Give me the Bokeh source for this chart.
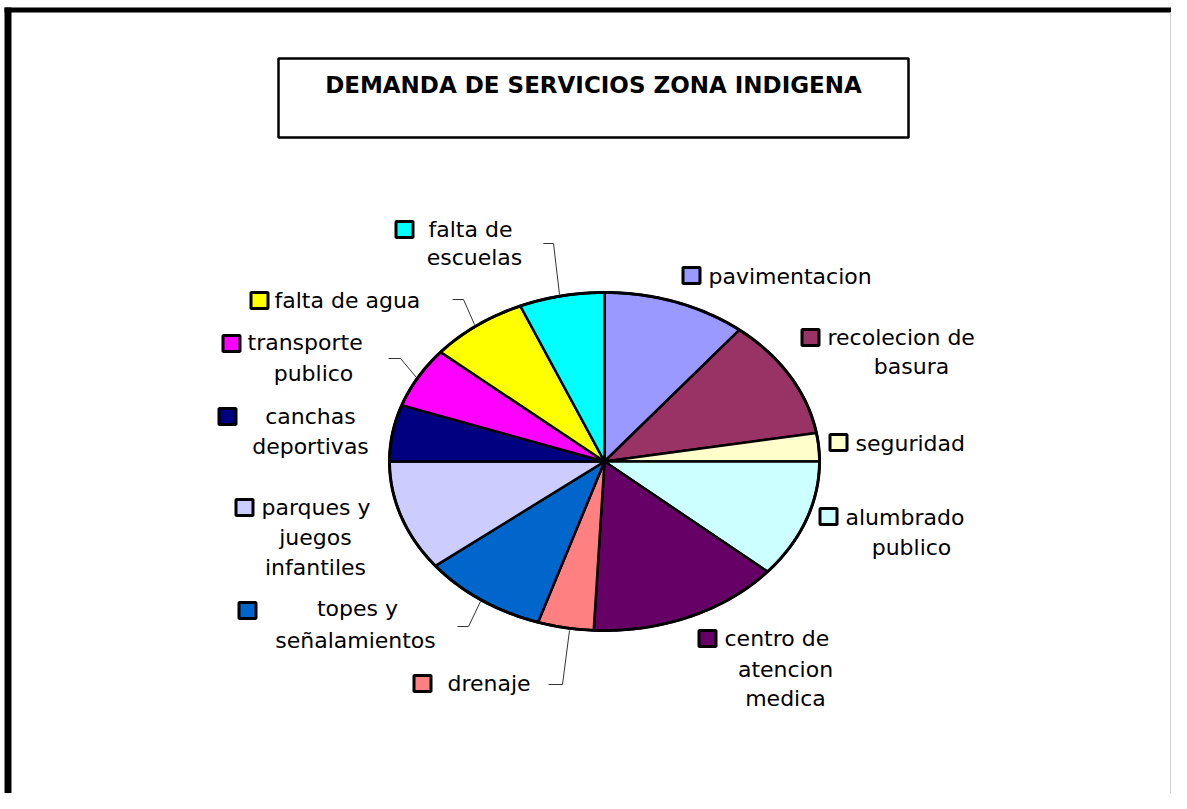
import numpy as np
from bokeh.plotting import figure
from bokeh.models import Range1d, ColumnDataSource
from bokeh.core.properties import value
from bokeh.embed import file_html
from bokeh.resources import INLINE

# ---------------- data ----------------
title = "DEMANDA DE SERVICIOS ZONA INDIGENA"
categories = ["pavimentacion", "recolecion de basura", "seguridad", "alumbrado publico",
              "centro de atencion medica", "drenaje", "topes y señalamientos",
              "parques y juegos infantiles", "canchas deportivas", "transporte publico",
              "falta de agua", "falta de escuelas"]
values = [10.8, 11.5, 2.7, 11.3, 14.5, 4.2, 9.4, 10.6, 5.4, 5.8, 7.4, 6.4]
colors = ["#9999FF", "#993366", "#FFFFCC", "#CCFFFF", "#660066", "#FF8080",
          "#0066CC", "#CCCCFF", "#000080", "#FF00FF", "#FFFF00", "#00FFFF"]

# ---------------- layout (screen pixel coordinates) ----------------
W, H = 1171, 793
CX, CY, RX, RY = 604, 461, 215, 169
FONT = "DejaVu Sans"

p = figure(width=W, height=H, output_backend="svg", toolbar_location=None,
           x_range=Range1d(0, W), y_range=Range1d(H, 0),
           min_border=0, outline_line_color=None)
p.axis.visible = False
p.grid.visible = False
p.background_fill_color = "white"
p.border_fill_color = "white"

# outer frame (thick black on left/top, thin grey on right)
p.line(x=[7.5, 7.5], y=[7, H], line_color="black", line_width=7)
p.line(x=[4, W], y=[9.5, 9.5], line_color="black", line_width=5)
p.line(x=[W - 1, W - 1], y=[12, H], line_color="#cccccc", line_width=1)

# title box
p.quad(left=[278], right=[908], top=[58], bottom=[137], fill_color="white",
       line_color="black", line_width=2.5)
p.text(x=[593], y=[84], text=[title], text_align="center", text_baseline="middle",
       text_font=value(FONT), text_font_style="bold", text_font_size="23px",
       text_color="black")

# pie slices (clockwise from 12 o'clock) as elliptical wedges
total = float(sum(values))
cum = np.concatenate([[0.0], np.cumsum(values)]) / total * 2 * np.pi
xs, ys = [], []
for i in range(len(values)):
    a0, a1 = cum[i], cum[i + 1]
    n = max(4, int((a1 - a0) / (2 * np.pi) * 360))
    t = np.linspace(a0, a1, n)
    xs.append([CX] + list(CX + RX * np.sin(t)) + [CX])
    ys.append([CY] + list(CY - RY * np.cos(t)) + [CY])
p.patches(xs=xs, ys=ys, fill_color=colors, line_color="black", line_width=2.5)
tt = np.linspace(0, 2 * np.pi, 400)
p.line(x=CX + RX * np.sin(tt), y=CY - RY * np.cos(tt), line_color="black", line_width=3)

# label layout: key square position, text lines (x, y, align)
label_layout = {
    "pavimentacion": ((691, 275), [("pavimentacion", 708, 276, "left")]),
    "recolecion de basura": ((810, 337), [("recolecion de", 827, 337, "left"),
                                          ("basura", 911, 366, "center")]),
    "seguridad": ((838, 442), [("seguridad", 855, 443, "left")]),
    "alumbrado publico": ((828, 516), [("alumbrado", 845, 517, "left"),
                                       ("publico", 911, 547, "center")]),
    "centro de atencion medica": ((707, 638), [("centro de", 724, 638, "left"),
                                               ("atencion", 785, 669, "center"),
                                               ("medica", 785, 698, "center")]),
    "drenaje": ((422, 683), [("drenaje", 447, 683, "left")]),
    "topes y señalamientos": ((247, 610), [("topes y", 357, 608, "center"),
                                            ("señalamientos", 355, 640, "center")]),
    "parques y juegos infantiles": ((244, 507), [("parques y", 261, 507, "left"),
                                                 ("juegos", 315, 537, "center"),
                                                 ("infantiles", 315, 567, "center")]),
    "canchas deportivas": ((227, 416), [("canchas", 310, 416, "center"),
                                        ("deportivas", 310, 446, "center")]),
    "transporte publico": ((231, 343), [("transporte", 247, 342, "left"),
                                        ("publico", 313, 373, "center")]),
    "falta de agua": ((259, 300), [("falta de agua", 274, 300, "left")]),
    "falta de escuelas": ((404, 229), [("falta de", 470, 229, "center"),
                                       ("escuelas", 474, 257, "center")]),
}
leaders = {
    "falta de escuelas": ([543, 553, 559], [243, 243, 294]),
    "falta de agua": ([452, 463, 474], [299, 299, 324]),
    "transporte publico": ([388, 400, 416], [358, 358, 377]),
    "topes y señalamientos": ([457, 468, 480], [626, 626, 601]),
    "drenaje": ([548, 562, 569], [684, 684, 630]),
}

kx, ky, kc = [], [], []
tx, ty, ttxt, talign = [], [], [], []
for cat, col in zip(categories, colors):
    (sx, sy), lines = label_layout[cat]
    kx.append(sx); ky.append(sy); kc.append(col)
    for txt, x, y, al in lines:
        tx.append(x); ty.append(y); ttxt.append(txt); talign.append(al)

p.multi_line(xs=[leaders[k][0] for k in leaders], ys=[leaders[k][1] for k in leaders],
             line_color="#333333", line_width=1)
p.rect(x=kx, y=ky, width=17, height=16, fill_color=kc, line_color="black", line_width=3)
src = ColumnDataSource(dict(x=tx, y=ty, text=ttxt, align=talign))
p.text(x="x", y="y", text="text", text_align="align", text_baseline="middle",
       text_font=value(FONT), text_font_size="22px", text_color="black", source=src)

open("out.html", "w").write(file_html(p, INLINE))
